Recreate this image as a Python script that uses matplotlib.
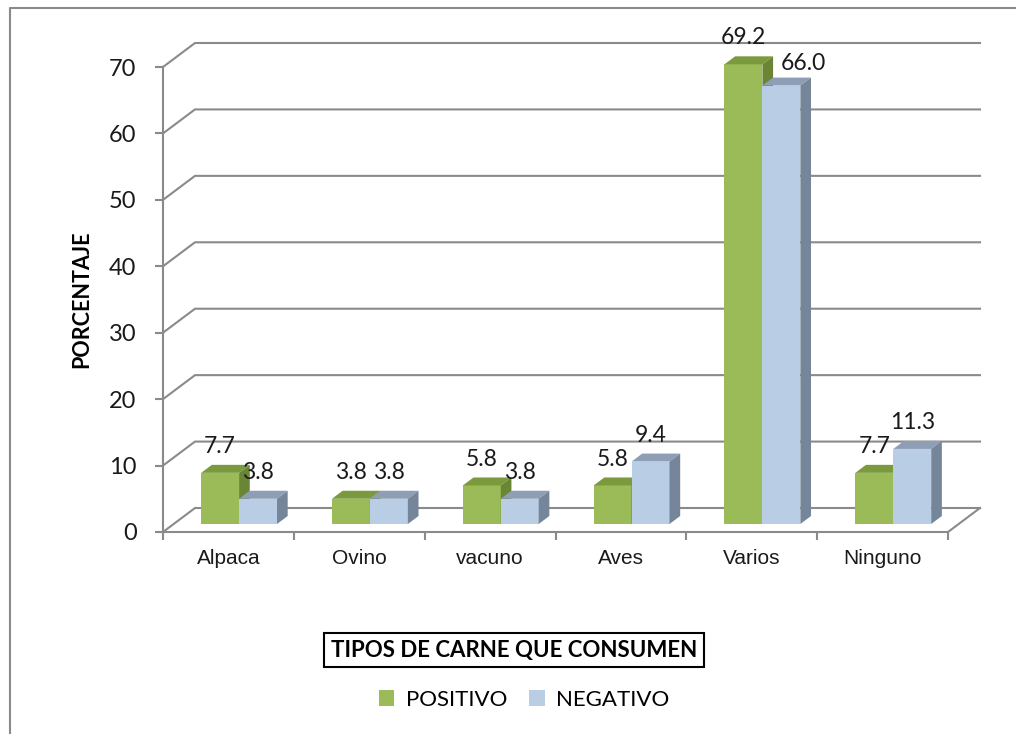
import matplotlib

matplotlib.use("Agg")
import matplotlib.pyplot as plt
from matplotlib.lines import Line2D
from matplotlib.patches import Patch, Polygon

categories = ["Alpaca", "Ovino", "vacuno", "Aves", "Varios", "Ninguno"]
positivo = [7.7, 3.8, 5.8, 5.8, 69.2, 7.7]
negativo = [3.8, 3.8, 3.8, 9.4, 66.0, 11.3]
y_ticks = [0, 10, 20, 30, 40, 50, 60, 70]
series_names = ["POSITIVO", "NEGATIVO"]

W, H = 1016, 734
fig = plt.figure(figsize=(W / 100, H / 100), dpi=100)
fig.patch.set_facecolor("white")

# front plane of the pseudo-3d box (pixel layout)
x0_px, x1_px = 163, 948
y0_px, y1_px = 532, 67
ax = fig.add_axes([x0_px / W, (H - y0_px) / H, (x1_px - x0_px) / W, (y0_px - y1_px) / H])
ax.set_xlim(0, len(categories))
ax.set_ylim(0, 70)
ax.set_facecolor("none")

px_x = (x1_px - x0_px) / len(categories)
px_y = (y0_px - y1_px) / 70
DX = 32 / px_x   # depth offset in data units
DY = 24 / px_y

grid_c = "#8a8a8a"
txt_c = "#1a1a1a"
num_font = ["Lato", "DejaVu Sans"]
cat_font = ["Liberation Sans", "DejaVu Sans"]

# gridlines: diagonal from front axis + horizontal on back wall
n = len(categories)
for v in y_ticks:
    ax.plot([0, DX, n + DX], [v, v + DY, v + DY], color=grid_c, lw=1.5,
            clip_on=False, zorder=1, solid_joinstyle="miter")
# floor edge on the right
ax.plot([n, n + DX], [0, DY], color=grid_c, lw=1.5, clip_on=False, zorder=1)

for sp in ["top", "right"]:
    ax.spines[sp].set_visible(False)
for sp in ["left", "bottom"]:
    ax.spines[sp].set_color(grid_c)
    ax.spines[sp].set_linewidth(1.5)

ax.set_yticks(y_ticks)
ax.set_yticklabels([str(v) for v in y_ticks], fontsize=17, family=num_font, color=txt_c)
ax.tick_params(axis="y", length=6, width=1.5, color=grid_c, pad=13)
ax.set_xticks(range(n + 1))
ax.set_xticklabels([])
ax.tick_params(axis="x", which="major", length=6, width=1.5, color=grid_c)
ax.set_xticks([i + 0.5 for i in range(n)], minor=True)
ax.set_xticklabels(categories, minor=True, fontsize=15, family=cat_font, color=txt_c)
ax.tick_params(axis="x", which="minor", length=0, pad=12)

ax.set_ylabel("PORCENTAJE", fontsize=15.5, fontweight="bold", family=num_font,
              color="black", labelpad=12)

# bars
w = 0.29
d0, d1 = 1 / 3, 2 / 3
styles = [
    ("#9bbb59", "#7b9a3e", "#6a8634"),
    ("#b9cde5", "#8e9fb5", "#75869a"),
]


def draw_bar(xl, h, cols, z, shift=(0, 19)):
    front, top, side = cols
    bx, by = xl + d0 * DX, d0 * DY
    ex, ey = d1 * DX - d0 * DX, d1 * DY - d0 * DY
    faces = [
        ([(bx, by), (bx + w, by), (bx + w, by + h), (bx, by + h)], front),
        ([(bx, by + h), (bx + w, by + h), (bx + w + ex, by + h + ey), (bx + ex, by + h + ey)], top),
        ([(bx + w, by), (bx + w + ex, by + ey), (bx + w + ex, by + h + ey), (bx + w, by + h)], side),
    ]
    for pts, c in faces:
        ax.add_patch(Polygon(pts, closed=True, facecolor=c, edgecolor="none",
                             clip_on=False, zorder=z))
    ax.annotate(f"{h:.1f}", (bx + w / 2, by + h), xytext=shift, textcoords="offset points",
                ha="center", va="center", fontsize=16.5, family=num_font, color=txt_c,
                zorder=10, annotation_clip=False)


for i in range(n):
    c = i + 0.5
    draw_bar(c - w, positivo[i], styles[0], 3 + i * 2)
    # tall pair: Excel nudges the second label aside so it clears the first
    nudge = (16, 16) if negativo[i] > 50 else (0, 19)
    draw_bar(c, negativo[i], styles[1], 4 + i * 2, nudge)

# boxed axis title
fig.text(514 / W, 1 - 650 / H, "TIPOS DE CARNE QUE CONSUMEN", ha="center", va="center",
         fontsize=16, fontweight="bold", family=num_font, color="black",
         bbox=dict(boxstyle="square,pad=0.3", facecolor="white", edgecolor="black", lw=1.5))

handles = [Patch(facecolor=styles[k][0], edgecolor="none") for k in range(2)]
fig.legend(handles, series_names, loc="center", bbox_to_anchor=(524 / W, 1 - 700 / H),
           ncol=2, frameon=False, handlelength=0.7, handleheight=0.7, handletextpad=0.5,
           columnspacing=1.0, prop={"family": num_font, "size": 16})

# outer chart frame
fig.add_artist(Line2D([10 / W, 10 / W, 1.0], [0.0, 1 - 8 / H, 1 - 8 / H],
                      transform=fig.transFigure, color="#8a8a8a", lw=1.5))

fig.savefig("out.png", dpi=100)
